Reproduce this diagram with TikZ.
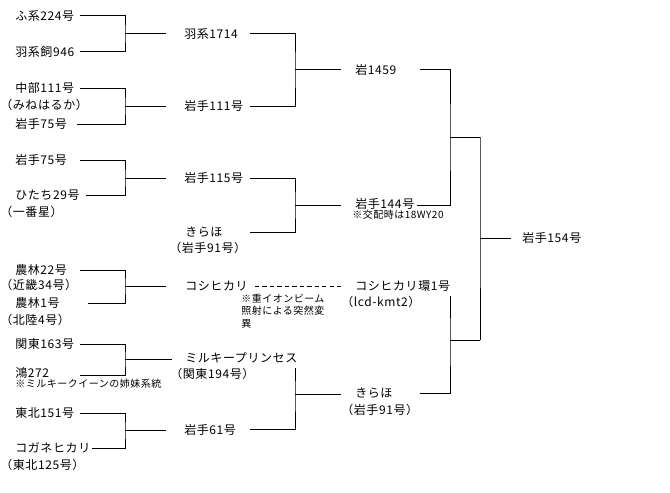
\documentclass[tikz,border=0pt]{standalone}
\usepackage{fontspec}
\setmainfont[LetterSpace=5]{Noto Sans CJK JP}
\begin{document}
\begin{tikzpicture}[x=0.75pt,y=-0.75pt,
  lbl/.style={anchor=west,inner sep=0pt,font=\fontsize{9pt}{11pt}\selectfont},
  note/.style={anchor=west,inner sep=0pt,align=left,font=\fontsize{7.5pt}{9.2pt}\selectfont},
  conn/.style={line width=0.75pt},
  dconn/.style={line width=0.75pt,dash pattern=on 3.2pt off 2.4pt}]
\useasboundingbox[fill=white] (0,0) rectangle (670,492);
% generation 1
\node[lbl] (a1) at (15,16) {ふ系224号};
\node[lbl] (a2) at (15,52) {羽系飼946};
\node[lbl] (a3) at (15,88) {中部111号};
\node[lbl] (a3p) at (0,105) {（みねはるか）};
\node[lbl] (a4) at (15,124) {岩手75号};
\node[lbl] (a5) at (15,160) {岩手75号};
\node[lbl] (a6) at (15,195) {ひたち29号};
\node[lbl] (a6p) at (0,212) {（一番星）};
\node[lbl] (a7) at (15,270) {農林22号};
\node[lbl] (a7p) at (0,285) {（近畿34号）};
\node[lbl] (a8) at (15,303) {農林1号};
\node[lbl] (a8p) at (0,320) {（北陸4号）};
\node[lbl] (a9) at (15,344) {関東163号};
\node[lbl] (a10) at (15,373) {鴻272};
\node[note] (a10n) at (15,384) {※ミルキークイーンの姉妹系統};
\node[lbl] (a11) at (15,413) {東北151号};
\node[lbl] (a12) at (15,448) {コガネヒカリ};
\node[lbl] (a12p) at (0,465) {（東北125号）};
% generation 2
\node[lbl] (b1) at (184,34) {羽系1714};
\node[lbl] (b2) at (184,106) {岩手111号};
\node[lbl] (b3) at (184,178) {岩手115号};
\node[lbl] (b4) at (185,232) {きらほ};
\node[lbl] (b4p) at (169,248) {（岩手91号）};
\node[lbl] (b5) at (185,286) {コシヒカリ};
\node[note] (b5n) at (241,311) {※重イオンビーム\\照射による突然変\\異};
\node[lbl] (b6) at (185,358) {ミルキープリンセス};
\node[lbl] (b6p) at (170,374) {（関東194号）};
\node[lbl] (b7) at (184,430) {岩手61号};
% generation 3
\node[lbl] (c1) at (355,70) {岩1459};
\node[lbl] (c2) at (355,204) {岩手144号};
\node[note] (c2n) at (352,215) {※交配時は18WY20};
\node[lbl] (c3) at (355,286) {コシヒカリ環1号};
\node[lbl] (c3p) at (341,302) {（lcd-kmt2）};
\node[lbl] (c4) at (355,393) {きらほ};
\node[lbl] (c4p) at (341,410) {（岩手91号）};
% generation 4
\node[lbl] (d1) at (522,238) {岩手154号};
% junction coordinates
\coordinate (j1) at (125,34);
\coordinate (j2) at (125,106);
\coordinate (j3) at (125,178);
\coordinate (j4) at (125,286);
\coordinate (j5) at (125,359);
\coordinate (j6) at (125,430);
\coordinate (k1) at (295,70);
\coordinate (k2) at (295,205);
\coordinate (k3) at (295,394);
\coordinate (k3t) at (295,368);
\coordinate (m1) at (450,137);
\coordinate (m2) at (450,340);
\coordinate (m2t) at (450,296);
\coordinate (n1) at (480,238);
% generation 1 brackets
\draw[conn] (80,16) -| (j1) |- (80,52);
\draw[conn] (j1) -- (166,34);
\draw[conn] (80,88) -| (j2) |- (77,124);
\draw[conn] (j2) -- (166,106);
\draw[conn] (80,160) -| (j3) |- (86,195);
\draw[conn] (j3) -- (166,178);
\draw[conn] (80,270) -| (j4) |- (88,303);
\draw[conn] (j4) -- (166,286);
\draw[conn] (80,344) -| (j5) |- (80,375);
\draw[conn] (j5) -- (172,359);
\draw[conn] (80,413) -| (j6) |- (92,448);
\draw[conn] (j6) -- (166,430);
% generation 2 brackets
\draw[conn] (250,34) -| (k1) |- (250,106);
\draw[conn] (k1) -- (341,70);
\draw[conn] (250,178) -| (k2) |- (250,232);
\draw[conn] (k2) -- (341,205);
\draw[conn] (k3t) -- (k3) |- (250,429);
\draw[conn] (k3) -- (341,394);
\draw[dconn] (255,286) -- (342,286);
% generation 3 brackets
\draw[conn] (420,70) -| (m1) |- (417,205);
\draw[conn] (m1) -- (480,137);
\draw[conn] (m2t) -- (m2) |- (420,393);
\draw[conn] (m2) -- (480,340);
% generation 4
\draw[conn] (480,137) -- (n1) -- (480,340);
\draw[conn] (n1) -- (511,238);
\end{tikzpicture}
\end{document}
